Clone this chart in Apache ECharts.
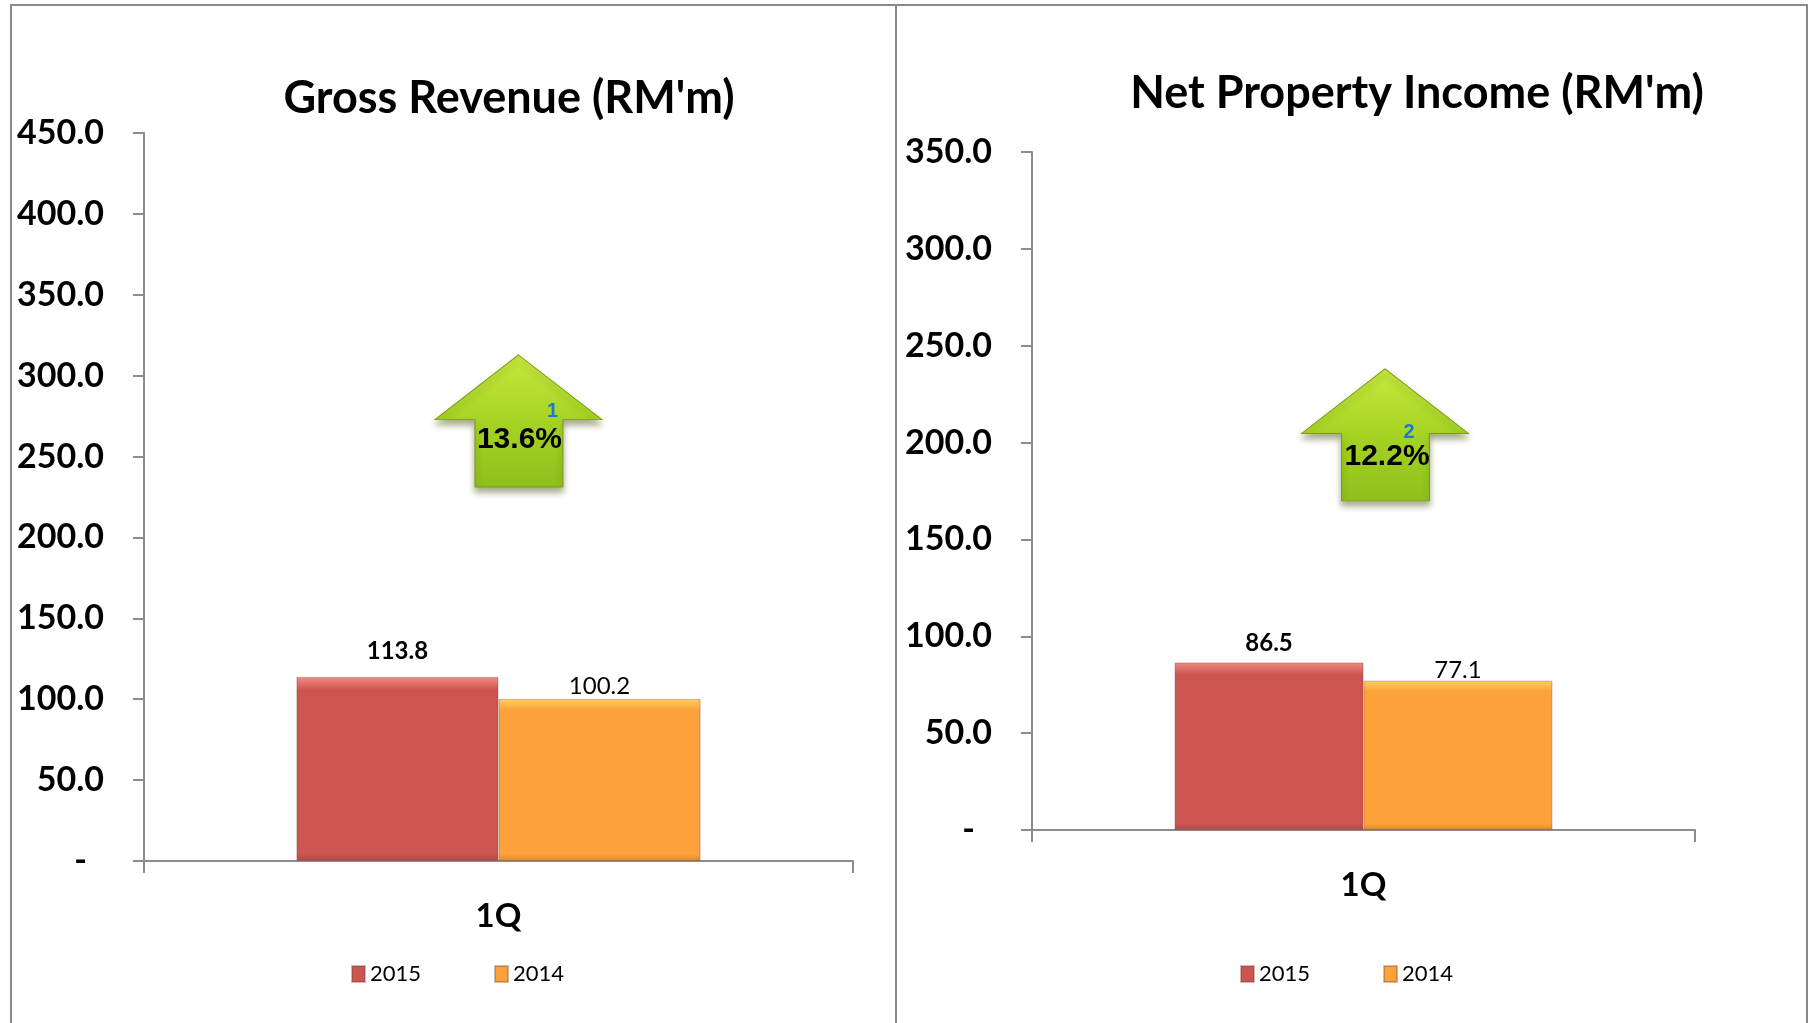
<!DOCTYPE html>
<html>
<head>
<meta charset="utf-8">
<style>
    html, body {margin:0;padding:0;background:#ffffff;}
    #chart {width:1810px;height:1023px;}
</style>
<script src="https://cdn.jsdelivr.net/npm/echarts@6/dist/echarts.min.js"></script>
</head>
<body>
<div id="chart"></div>
<script>
    // data
    var categories = ['1Q'];
    var years = ['2015', '2014'];
    var grossRevenue2015 = [113.8];
    var grossRevenue2014 = [100.2];
    var npi2015 = [86.5];
    var npi2014 = [77.1];
    var grossTicks = [0, 50, 100, 150, 200, 250, 300, 350, 400, 450];
    var npiTicks = [0, 50, 100, 150, 200, 250, 300, 350];
    var footnotes = ['1', '2'];

    var FONT = 'Lato';
    var red = '#cc5551', orange = '#fda23a';
    var axisGrey = '#8c8c8c';

    function growth(a, b) {
        return ((a - b) / b * 100).toFixed(1) + '%';
    }

    function bevel(c1, c2, c3, c4) {
        return new echarts.graphic.LinearGradient(0, 0, 0, 1, [
            {offset: 0, color: c1},
            {offset: 0.035, color: c2},
            {offset: 0.07, color: c3},
            {offset: 0.96, color: c3},
            {offset: 1, color: c4}
        ]);
    }

    var redFill = bevel('#f08a86', '#e0716d', red, '#b04a47');
    var orangeFill = bevel('#ffd060', '#ffb849', orange, '#d9892c');

    var arrowPath = 'path://M50,0 L100,49 L76.6,49 L76.6,100 L24,100 L24,49 L0,49 Z';
    var arrowStyle = {
        color: new echarts.graphic.LinearGradient(0, 0, 0, 1, [
            {offset: 0, color: '#c6ea3e'},
            {offset: 0.5, color: '#a5d324'},
            {offset: 1, color: '#8fbf1c'}
        ]),
        borderColor: '#7f9c18',
        borderWidth: 1,
        shadowColor: 'rgba(60,70,0,0.45)',
        shadowBlur: 6,
        shadowOffsetY: 5
    };

    // arrow sits over the 2015 bar's coordinate, shifted right by offset
    function arrowMark(level, offset, pct, note, pctOff, noteOff) {
        return {
            silent: true,
            z: 10,
            data: [{
                coord: [categories[0], level],
                symbol: arrowPath,
                symbolSize: [167, 132],
                symbolKeepAspect: false,
                symbolOffset: offset,
                itemStyle: arrowStyle,
                label: {
                    show: true, position: 'inside', formatter: pct, offset: pctOff,
                    color: '#000', fontFamily: 'Liberation Sans', fontWeight: 'bold', fontSize: 30
                }
            }, {
                coord: [categories[0], level],
                symbol: 'circle',
                symbolSize: 1,
                symbolOffset: offset,
                itemStyle: {color: 'rgba(0,0,0,0)'},
                label: {
                    show: true, position: 'inside', formatter: note, offset: noteOff,
                    color: '#1f78c8', fontFamily: 'Liberation Sans', fontWeight: 'bold', fontSize: 20
                }
            }]
        };
    }

    function yLabel(v) {
        return v === 0 ? '{d|-}' : v.toFixed(1);
    }

    function yAxis(idx, ticks) {
        return {
            type: 'value', gridIndex: idx,
            min: ticks[0], max: ticks[ticks.length - 1], interval: ticks[1] - ticks[0],
            splitLine: {show: false},
            axisLine: {show: true, lineStyle: {color: axisGrey, width: 2}},
            axisTick: {show: true, length: 11, lineStyle: {color: axisGrey, width: 2}},
            axisLabel: {
                margin: 40, formatter: yLabel,
                color: '#000', fontFamily: FONT, fontWeight: 'bold', fontSize: 34,
                rich: {d: {fontFamily: FONT, fontWeight: 'bold', fontSize: 34, color: '#000', padding: [0, 17, 0, 0]}}
            }
        };
    }

    function xAxis(idx) {
        return {
            type: 'category', gridIndex: idx, data: categories,
            axisLine: {show: true, lineStyle: {color: axisGrey, width: 2}},
            axisTick: {show: true, interval: 0, length: 12, lineStyle: {color: axisGrey, width: 2}},
            axisLabel: {margin: 39, color: '#000', fontFamily: FONT, fontWeight: 'bold', fontSize: 33}
        };
    }

    function bar(name, idx, data, fill, bold, dist) {
        return {
            name: name, type: 'bar', xAxisIndex: idx, yAxisIndex: idx,
            data: data, barGap: '0%', barCategoryGap: '43%',
            itemStyle: {color: fill, borderColor: 'rgba(120,60,40,0.35)', borderWidth: 1},
            label: {
                show: true, position: 'top', distance: dist,
                formatter: function (p) { return p.value.toFixed(1); },
                color: '#000', fontFamily: FONT, fontSize: 24, fontWeight: bold ? 'bold' : 'normal'
            }
        };
    }

    function legend(left) {
        return {
            data: [{name: years[0], itemStyle: {color: red}}, {name: years[1], itemStyle: {color: orange}}],
            left: left, top: 958, icon: 'rect', itemWidth: 13, itemHeight: 16, itemGap: 73,
            textStyle: {fontFamily: FONT, fontSize: 22, color: '#000'}
        };
    }

    var titleStyle = {fontFamily: FONT, fontWeight: 'bold', fontSize: 45, color: '#000'};

    var option = {
        backgroundColor: '#ffffff',
        animation: false,
        title: [
            {text: "Gross Revenue (RM'm)", left: 504, top: 71, textAlign: 'center', textStyle: titleStyle},
            {text: "Net Property Income (RM'm)", left: 1412, top: 66, textAlign: 'center', textStyle: titleStyle}
        ],
        legend: [legend(346), legend(1235)],
        grid: [
            {left: 144, top: 133, width: 709, height: 728},
            {left: 1032, top: 152, width: 663, height: 678}
        ],
        xAxis: [xAxis(0), xAxis(1)],
        yAxis: [yAxis(0, grossTicks), yAxis(1, npiTicks)],
        graphic: [
            {type: 'rect', shape: {x: 11, y: 5, width: 1796, height: 1040}, style: {fill: null, stroke: '#8a8a8a', lineWidth: 2}, silent: true},
            {type: 'line', shape: {x1: 896, y1: 5, x2: 896, y2: 1023}, style: {stroke: '#8a8a8a', lineWidth: 2}, silent: true}
        ],
        series: [
            Object.assign(bar(years[0], 0, grossRevenue2015, redFill, true, 14),
                {markPoint: arrowMark(272, [121, 0], growth(grossRevenue2015[0], grossRevenue2014[0]), footnotes[0], [1, 19], [34, -9])}),
            bar(years[1], 0, grossRevenue2014, orangeFill, false, 1),
            Object.assign(bar(years[0], 1, npi2015, redFill, true, 7),
                {markPoint: arrowMark(204, [116, 0], growth(npi2015[0], npi2014[0]), footnotes[1], [2, 22], [24, -2])}),
            bar(years[1], 1, npi2014, orangeFill, false, -2)
        ]
    };

    var myChart = echarts.init(document.getElementById('chart'));
    myChart.setOption(option, true);
</script>
</body>
</html>
